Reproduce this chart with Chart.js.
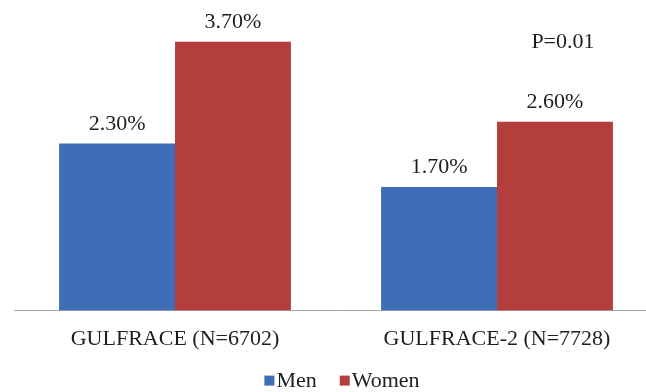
<!DOCTYPE html>
<html><head><meta charset="utf-8">
<script src="https://cdn.jsdelivr.net/npm/chart.js@4"></script>
<style>html,body{margin:0;padding:0;background:#fff;overflow:hidden}#wrap{width:646px;height:392px;overflow:hidden}</style>
</head><body><div id="wrap"><canvas id="c" width="658" height="392"></canvas></div>
<script>
const categories = ["GULFRACE (N=6702)", "GULFRACE-2 (N=7728)"];
const men = [2.3, 1.7];
const women = [3.7, 2.6];
const seriesNames = ["Men", "Women"];
const seriesColors = ["#3F6DB7", "#B33E3B"];
const pNote = "P=0.01";

const serif = "'Liberation Serif','Times New Roman',serif";
const textColor = '#1e1e1e';

const labelPlugin = {
  id: 'barLabels',
  afterDatasetsDraw(chart) {
    const ctx = chart.ctx;
    ctx.save();
    ctx.fillStyle = textColor;
    ctx.font = '22px ' + serif;
    ctx.textAlign = 'center';
    ctx.textBaseline = 'alphabetic';
    chart.data.datasets.forEach((ds, di) => {
      chart.getDatasetMeta(di).data.forEach((bar, i) => {
        ctx.fillText(ds.data[i].toFixed(2) + '%', bar.x, bar.y - 14);
      });
    });
    const meta = chart.getDatasetMeta(1).data[1];
    ctx.textBaseline = 'middle';
    ctx.fillText(pNote, meta.x + 8, chart.scales.y.getPixelForValue(3.7));

    // legend
    ctx.font = '22px ' + serif;
    ctx.textAlign = 'left';
    const box = 10, gap = 2, sep = 23;
    const widths = chart.data.datasets.map(ds => ctx.measureText(ds.label).width);
    let total = 0;
    widths.forEach((w, i) => { total += box + gap + w + (i < widths.length - 1 ? sep : 0); });
    const ca = chart.chartArea;
    let x = (ca.left + ca.right) / 2 - total / 2 + 6;
    const yc = ca.bottom + 70;
    chart.data.datasets.forEach((ds, i) => {
      ctx.fillStyle = ds.backgroundColor;
      ctx.fillRect(x, yc - box / 2, box, box);
      x += box + gap;
      ctx.fillStyle = textColor;
      ctx.textBaseline = 'middle';
      ctx.fillText(ds.label, x, yc + 1);
      x += widths[i] + sep;
    });
    ctx.restore();
  }
};

new Chart(document.getElementById('c'), {
  type: 'bar',
  data: {
    labels: categories,
    datasets: [
      { label: seriesNames[0], data: men, backgroundColor: seriesColors[0] },
      { label: seriesNames[1], data: women, backgroundColor: seriesColors[1] }
    ]
  },
  options: {
    responsive: false,
    animation: false,
    layout: { padding: { left: 14, right: 0, top: 20, bottom: 25 } },
    datasets: { bar: { categoryPercentage: 0.72, barPercentage: 1.0 } },
    plugins: {
      legend: { display: false },
      tooltip: { enabled: false }
    },
    scales: {
      x: {
        grid: { display: false, drawTicks: false },
        border: { color: '#a6a6a6', width: 1 },
        ticks: { color: textColor, padding: 15, font: { family: serif, size: 22 } }
      },
      y: {
        display: false,
        min: 0, max: 4
      }
    }
  },
  plugins: [labelPlugin]
});
</script></body></html>
